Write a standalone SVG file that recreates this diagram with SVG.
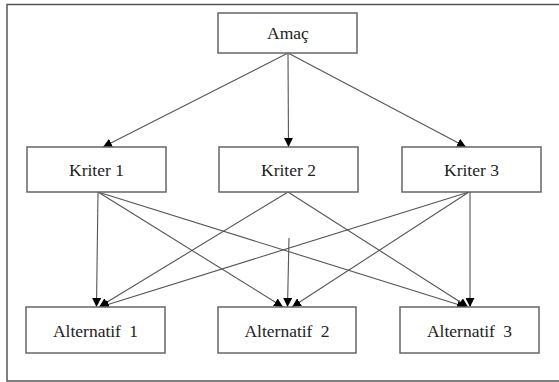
<svg xmlns="http://www.w3.org/2000/svg" width="559" height="382" viewBox="0 0 559 382">
<style>
.box{fill:#fff;stroke:#666;stroke-width:1.5}
.lbl{font-family:"Liberation Serif","Times New Roman",serif;font-size:17.5px;fill:#222;text-anchor:middle}
.c{stroke:#555;stroke-width:1.1;fill:none;marker-end:url(#ah)}
.frame{stroke:#555;stroke-width:1.5;fill:none}
</style>
<defs>
<marker id="ah" viewBox="0 0 10 10" refX="10" refY="5" markerWidth="9" markerHeight="9" markerUnits="userSpaceOnUse" orient="auto">
<path d="M0,0 L10,5 L0,10 z" fill="#000"/>
</marker>
</defs>
<rect width="559" height="382" fill="#fff"/>
<path class="frame" d="M560,4.5 H7 V381 H560"/>
<g id="connectors">
<line class="c" x1="288" y1="53" x2="103" y2="147"/>
<line class="c" x1="288" y1="53" x2="288.5" y2="147"/>
<line class="c" x1="288" y1="53" x2="466" y2="147"/>
<line class="c" x1="98" y1="192" x2="96.5" y2="307"/>
<line class="c" x1="98" y1="192" x2="283" y2="307"/>
<line class="c" x1="98" y1="192" x2="466" y2="307"/>
<line class="c" x1="288" y1="192" x2="99" y2="307"/>
<line class="c" x1="288" y1="192" x2="468" y2="307"/>
<line class="c" x1="289" y1="238" x2="287.5" y2="307"/>
<line class="c" x1="469" y1="192" x2="100" y2="307"/>
<line class="c" x1="469" y1="192" x2="292" y2="307"/>
<line class="c" x1="470" y1="192" x2="470" y2="307"/>
</g>
<g id="amac"><rect class="box" x="218" y="13" width="139" height="40"/><text class="lbl" x="288" y="39">Amaç</text></g>
<g id="kriter1"><rect class="box" x="27" y="147" width="139" height="45"/><text class="lbl" x="96.5" y="176">Kriter 1</text></g>
<g id="kriter2"><rect class="box" x="219" y="147" width="139" height="45"/><text class="lbl" x="288.5" y="176">Kriter 2</text></g>
<g id="kriter3"><rect class="box" x="402" y="147" width="139" height="45"/><text class="lbl" x="471.5" y="176">Kriter 3</text></g>
<g id="alt1"><rect class="box" x="26" y="307" width="139" height="46"/><text class="lbl" x="95.5" y="337" word-spacing="4">Alternatif 1</text></g>
<g id="alt2"><rect class="box" x="218" y="307" width="138" height="46"/><text class="lbl" x="287" y="337" word-spacing="4">Alternatif 2</text></g>
<g id="alt3"><rect class="box" x="400" y="307" width="139" height="46"/><text class="lbl" x="469.5" y="337" word-spacing="4">Alternatif 3</text></g>
</svg>
